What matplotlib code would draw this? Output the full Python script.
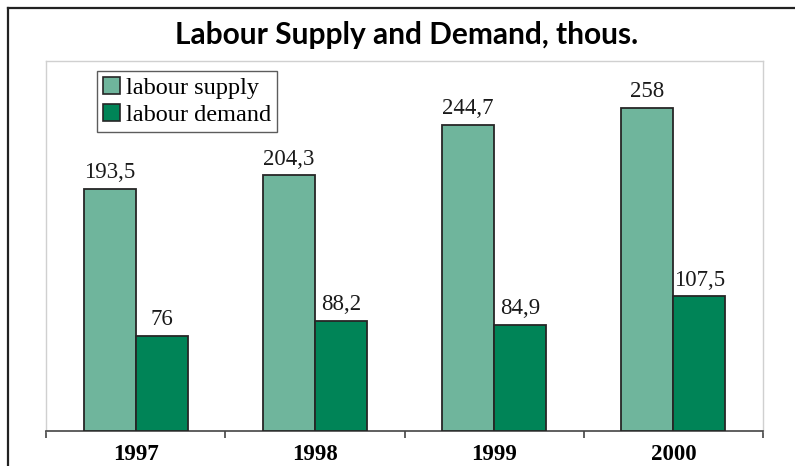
import matplotlib

matplotlib.use("Agg")
import matplotlib.pyplot as plt
from matplotlib.lines import Line2D
from matplotlib.patches import Patch

years = ["1997", "1998", "1999", "2000"]
supply = [193.5, 204.3, 244.7, 258.0]
demand = [76.0, 88.2, 84.9, 107.5]
supply_labels = ["193,5", "204,3", "244,7", "258"]
demand_labels = ["76", "88,2", "84,9", "107,5"]

C_SUPPLY = "#6fb59c"
C_DEMAND = "#008457"
EDGE = "#262626"
SERIF = "Liberation Serif"

fig = plt.figure(figsize=(7.95, 4.66), dpi=100)

# outer frame (runs off the right and bottom of the picture)
fig.add_artist(Line2D([8 / 795, 1.0], [1 - 8 / 466, 1 - 8 / 466], transform=fig.transFigure,
                      color="#222222", lw=1.6))
fig.add_artist(Line2D([8 / 795, 8 / 795], [0.0, 1 - 8 / 466], transform=fig.transFigure,
                      color="#222222", lw=1.6))

fig.text(0.512, 1 - 35 / 466, "Labour Supply and Demand, thous.", ha="center", va="center",
         fontsize=21.5, fontweight="bold", family="Lato")

ax = fig.add_axes([46 / 795, 35 / 466, 717 / 795, 370 / 466])
w = 0.29
x = range(len(years))
xs = [i - w / 2 for i in x]
xd = [i + w / 2 for i in x]
bs = ax.bar(xs, supply, w, color=C_SUPPLY, edgecolor=EDGE, lw=1.3, zorder=3)
bd = ax.bar(xd, demand, w, color=C_DEMAND, edgecolor=EDGE, lw=1.3, zorder=3)

for bars, labels in ((bs, supply_labels), (bd, demand_labels)):
    for rect, lab in zip(bars, labels):
        ax.annotate(lab, (rect.get_x() + rect.get_width() / 2, rect.get_height()),
                    xytext=(0, 4), textcoords="offset points", ha="center", va="bottom",
                    fontsize=16.5, family=SERIF, color="#1a1a1a")

ax.set_xlim(-0.5, len(years) - 0.5)
ax.set_ylim(0, 295.5)
ax.set_yticks([])
ax.set_xticks(list(x))
ax.set_xticklabels(years, fontsize=16.5, fontweight="bold", family=SERIF)
ax.set_xticks([i - 0.5 for i in range(len(years) + 1)], minor=True)
ax.tick_params(axis="x", which="major", length=0, pad=9)
ax.tick_params(axis="x", which="minor", length=5, width=1.2, color="#444444")

for side in ("top", "left", "right"):
    ax.spines[side].set_color("#d0d0d0")
    ax.spines[side].set_linewidth(1.0)
ax.spines["bottom"].set_color("#444444")
ax.spines["bottom"].set_linewidth(1.2)

handles = [Patch(facecolor=C_SUPPLY, edgecolor=EDGE, lw=1.2, label="labour supply"),
           Patch(facecolor=C_DEMAND, edgecolor=EDGE, lw=1.2, label="labour demand")]
leg = ax.legend(handles=handles, loc="upper left", bbox_to_anchor=(51 / 717, 1 - 10 / 370),
                prop={"family": SERIF, "size": 17.5}, frameon=True, fancybox=False,
                handlelength=0.7, handleheight=0.7, handletextpad=0.25, borderpad=0.25,
                labelspacing=0.2, borderaxespad=0)
leg.get_frame().set_edgecolor("#333333")
leg.get_frame().set_linewidth(1.0)

fig.savefig("out.png", dpi=100)
